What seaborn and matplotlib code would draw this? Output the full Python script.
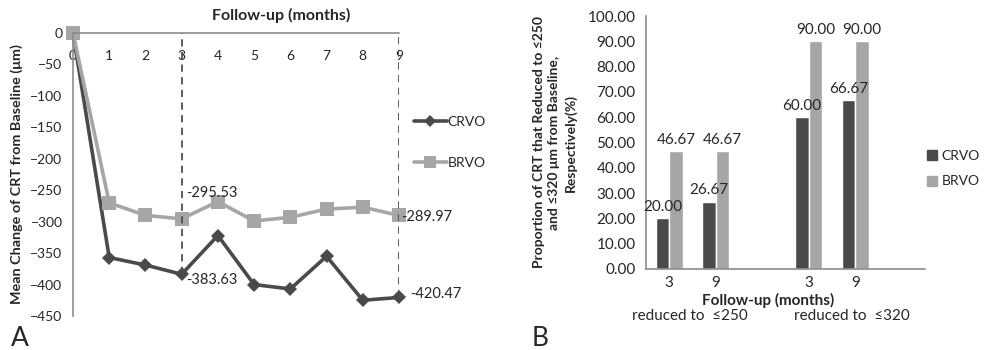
import numpy as np
import pandas as pd
import seaborn as sns
import matplotlib.pyplot as plt
from matplotlib.lines import Line2D

# panel A data: mean change of CRT from baseline (um)
months = [0, 1, 2, 3, 4, 5, 6, 7, 8, 9]
crvo_change = [0, -357, -369, -383.63, -322, -400, -407, -355, -425, -420.47]
brvo_change = [0, -270, -290, -295.53, -268, -299, -293, -280, -277, -289.97]

# panel B data: proportion reduced (%)
slots = ['250_3', '250_9', 'gap1', '320_3', '320_9', 'gap2']
slot_labels = ['3', '9', '', '3', '9', '']
crvo_prop = [20.00, 26.67, np.nan, 60.00, 66.67, np.nan]
brvo_prop = [46.67, 46.67, np.nan, 90.00, 90.00, np.nan]
group_labels = ['reduced to  \u2264250', 'reduced to  \u2264320']

groups = ['CRVO', 'BRVO']
colors = {'CRVO': '#4a4a4a', 'BRVO': '#a6a6a6'}
spine_col = '#8c8c8c'

sns.set_style('white')
plt.rcParams['font.family'] = ['Lato', 'DejaVu Sans']

W, H = 984, 350
fig = plt.figure(figsize=(W / 100, H / 100), dpi=100)


def px(x0, y0, x1, y1):
	"""
	pixel box to figure fraction rect
	"""
	return [x0 / W, 1 - y1 / H, (x1 - x0) / W, (y1 - y0) / H]


# ---------------- panel A ----------------
axA = fig.add_axes(px(73, 33, 399, 316))

dfA = pd.DataFrame({
	'month': months * 2,
	'change': crvo_change + brvo_change,
	'group': ['CRVO'] * len(months) + ['BRVO'] * len(months),
})
sns.lineplot(data=dfA, x='month', y='change', hue='group', style='group',
			 palette=colors, markers={'CRVO': 'D', 'BRVO': 's'}, dashes=False,
			 linewidth=2.6, ax=axA, legend=False, clip_on=False,
			 markeredgewidth=0)
for line, ms in zip(axA.lines, [7, 10]):
	line.set_markersize(ms)

# dashed guides at 3 and 9 months
for m in [3, 9]:
	axA.vlines(m, crvo_change[m], 0, colors='#505050', linestyles=(0, (4, 3)), linewidth=1.3)

axA.set_xlim(0, 9)
axA.set_ylim(-450, 0)
axA.set_xticks(months)
axA.set_yticks(np.arange(-450, 1, 50))
axA.spines['bottom'].set_position(('data', 0))
for s in ['right', 'top']:
	axA.spines[s].set_visible(False)
for s in ['left', 'bottom']:
	axA.spines[s].set_color(spine_col)
	axA.spines[s].set_linewidth(1.2)
axA.tick_params(axis='both', direction='out', length=4, color=spine_col, labelsize=10)
axA.tick_params(axis='x', pad=8)
axA.set_xlabel('')
axA.set_ylabel('Mean Change of CRT from Baseline (\u03bcm)', fontsize=10.4, fontweight='bold', labelpad=5)

# value annotations
axA.annotate('-295.53', (3, brvo_change[3]), xytext=(4, 26), textcoords='offset pixels',
			 ha='left', va='center', fontsize=10.5)
axA.annotate('-383.63', (3, crvo_change[3]), xytext=(4, -6), textcoords='offset pixels',
			 ha='left', va='center', fontsize=10.5)
axA.annotate('-289.97', (9, brvo_change[9]), xytext=(2, -2), textcoords='offset pixels',
			 ha='left', va='center', fontsize=10.5, annotation_clip=False)
axA.annotate('-420.47', (9, crvo_change[9]), xytext=(11, 3), textcoords='offset pixels',
			 ha='left', va='center', fontsize=10.5, annotation_clip=False)

fig.text(281 / W, 1 - 15 / H, 'Follow-up (months)', ha='center', va='center',
		 fontsize=11.5, fontweight='bold')

# legend for panel A
handlesA = [Line2D([], [], color=colors['CRVO'], marker='D', markersize=6, lw=2.6, markeredgewidth=0),
			Line2D([], [], color=colors['BRVO'], marker='s', markersize=9, lw=2.6, markeredgewidth=0)]
fig.legend(handlesA, groups, loc='upper left', bbox_to_anchor=(408 / W, 1 - 110 / H),
		   frameon=False, fontsize=10, handlelength=2.4, handletextpad=0.05, labelspacing=2.1,
		   borderaxespad=0)

fig.text(20 / W, 1 - 338 / H, 'A', ha='center', va='center', fontsize=19)

# ---------------- panel B ----------------
axB = fig.add_axes(px(646, 16, 925, 269))

dfB = pd.DataFrame({
	'slot': slots * 2,
	'prop': crvo_prop + brvo_prop,
	'group': ['CRVO'] * len(slots) + ['BRVO'] * len(slots),
})
sns.barplot(data=dfB, x='slot', y='prop', hue='group', order=slots, hue_order=groups,
			palette=colors, width=0.58, ax=axB, legend=False, saturation=1, errorbar=None)

for cont in axB.containers:
	axB.bar_label(cont, fmt='%.2f', fontsize=11, padding=3)

axB.set_xlim(-0.5, len(slots) - 0.5)
axB.set_ylim(0, 100)
axB.set_yticks(np.arange(0, 101, 10))
axB.set_yticklabels(['%.2f' % v for v in np.arange(0, 101, 10)])
# tick marks at category boundaries, labels at centres
axB.set_xticks(np.arange(-0.5, len(slots)), labels=[''] * (len(slots) + 1))
axB.set_xticks(np.arange(len(slots)), labels=slot_labels, minor=True)
axB.tick_params(axis='x', which='minor', length=0, pad=5, labelsize=11)
axB.tick_params(axis='both', which='major', direction='out', length=4, color=spine_col, labelsize=11)
for s in ['right', 'top']:
	axB.spines[s].set_visible(False)
for s in ['left', 'bottom']:
	axB.spines[s].set_color(spine_col)
	axB.spines[s].set_linewidth(1.2)
axB.set_xlabel('')
axB.set_ylabel('Proportion of CRT that Reduced to \u2264250\nand \u2264320 \u03bcm from Baseline,\nRespectively(%)',
			   fontsize=10, fontweight='bold', labelpad=8, linespacing=1.35)

fig.text(768 / W, 1 - 300 / H, 'Follow-up (months)', ha='center', va='center',
		 fontsize=11, fontweight='bold')
fig.text(690 / W, 1 - 316 / H, group_labels[0], ha='center', va='center', fontsize=11)
fig.text(852 / W, 1 - 316 / H, group_labels[1], ha='center', va='center', fontsize=11)

# legend for panel B
handlesB = [Line2D([], [], color=colors[g], marker='s', markersize=7, lw=0) for g in groups]
fig.legend(handlesB, groups, loc='upper left', bbox_to_anchor=(921 / W, 1 - 144 / H),
		   frameon=False, fontsize=10, handlelength=0.8, handletextpad=0.3, labelspacing=1.0,
		   borderaxespad=0)

fig.text(540 / W, 1 - 338 / H, 'B', ha='center', va='center', fontsize=19)

fig.savefig('out.png', dpi=100)
